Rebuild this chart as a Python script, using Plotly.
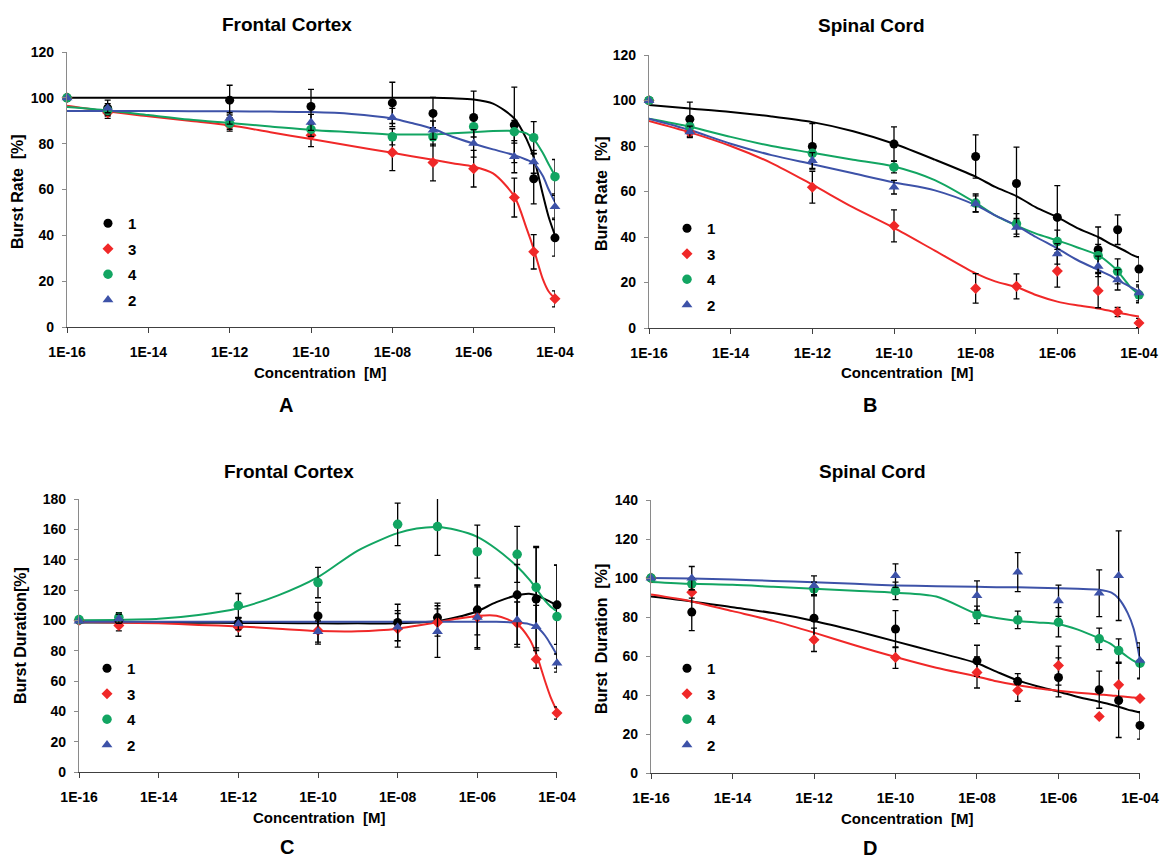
import plotly.graph_objects as go

# ---------------- data ----------------
conc = [1e-16, 1e-15, 1e-12, 1e-10, 1e-8, 1e-7, 1e-6, 1e-5, 3e-5, 1e-4]
fit_conc = [1e-16, 1e-15, 1e-14, 1e-13, 1e-12, 1e-11, 1e-10, 1e-9, 1e-8, 3e-8,
            1e-7, 3e-7, 1e-6, 3e-6, 1e-5, 2e-5, 3e-5, 5e-5, 7e-5, 1e-4]
series_names = ["1", "3", "4", "2"]
tick_vals = [1e-16, 1e-14, 1e-12, 1e-10, 1e-8, 1e-6, 1e-4]
tick_text = ["1E-16", "1E-14", "1E-12", "1E-10", "1E-08", "1E-06", "1E-04"]

# Panel A: Frontal Cortex, burst rate
A_s1 = [100, 95.5, 99, 96.2, 97.8, 93.2, 91.4, 88.2, 64.7, 38.9]
A_s1_err = [0, 3.5, 6.5, 7.5, 9, 7, 11.5, 16.5, 11, 8]
A_s3 = [100, 93.5, 88, 83.7, 76.2, 71.8, 69.1, 56.5, 32.8, 12.3]
A_s3_err = [0, 2.5, 2.5, 5, 8, 8, 8, 8.5, 7.5, 3.5]
A_s4 = [100, 94.5, 88.8, 86.2, 83, 83, 87.4, 85.2, 82.6, 65.6]
A_s4_err = [0, 2, 2.5, 3, 3.5, 4, 4.5, 5, 7, 7.5]
A_s2 = [100, 95.5, 91, 89.3, 91.4, 85.9, 80.1, 74.3, 72.1, 52.5]
A_s2_err = [0, 2, 2.5, 3.5, 4, 4, 6, 7, 5, 5]
A_fit1 = [100, 100, 100, 100, 100, 100, 100, 100, 100, 100, 100, 99.8, 99.3, 97.5, 91, 82, 74, 58, 48, 40]
A_fit3 = [96.5, 94, 92, 90, 88, 85, 82, 79, 76, 74.5, 73, 71.5, 70, 67, 57, 43, 34, 21, 15.5, 12.5]
A_fit4 = [96, 94.5, 92.5, 90.5, 89, 87.5, 86, 85, 84, 84, 84, 84.5, 85, 85.5, 85.5, 84.5, 82, 76, 71, 66]
A_fit2 = [94.3, 94.3, 94.3, 94.2, 94.1, 94, 93.8, 93, 91, 89, 86.5, 83, 80, 77.5, 75, 73, 71.5, 66, 60, 54.5]

# Panel B: Spinal Cord, burst rate
B_s1 = [100, 91.8, 79.8, 80.9, 75.4, 63.5, 48.6, 34.4, 43.2, 25.9]
B_s1_err = [0, 7.5, 10, 7.5, 9.5, 16, 14, 10, 6.5, 5.5]
B_s3 = [100, 86, 61.9, 44.9, 17.4, 18.3, 25, 16.4, 7, 2.2]
B_s3_err = [0, 2, 7, 7, 6.5, 5.5, 7, 7.5, 2, 2]
B_s4 = [100, 88.5, 76.8, 70.7, 54.9, 45.8, 38, 31.8, 24.9, 14.6]
B_s4_err = [0, 2, 3, 2.5, 4, 4.5, 5, 5, 5.5, 3.5]
B_s2 = [100, 86.2, 73.6, 61.9, 54.6, 44.2, 32.6, 27.1, 21.2, 15.4]
B_s2_err = [0, 2.5, 3.5, 3, 3.5, 4, 4.5, 4.5, 4.5, 3.5]
B_fit1 = [98, 96.5, 95, 93, 90.5, 86.5, 81, 74, 66.5, 62, 58, 53, 48.7, 44, 40, 37, 35.5, 33.5, 32, 31]
B_fit3 = [91, 86, 80, 72.5, 63, 53, 44, 34, 24, 20.5, 18, 14.5, 11.6, 10, 8.6, 7.5, 6.8, 6, 5.5, 5]
B_fit4 = [92, 88.5, 84, 80, 77, 74, 71, 65, 55, 49.5, 45, 41.5, 38.5, 35.5, 32, 28, 25, 20, 17, 15]
B_fit2 = [92, 87, 81, 76, 72, 68, 64, 60.5, 54, 49.5, 45, 40, 35, 30, 25.5, 23, 21, 19, 17.5, 16]

# Panel C: Frontal Cortex, burst duration
C_s1 = [100, 100, 98, 102.9, 98.6, 101.8, 106.9, 116.8, 114, 110.2]
C_s1_err = [0, 4, 4, 9, 12, 9.5, 16.5, 20, 34, 26]
C_s3 = [100, 96.6, 95.5, 93.3, 94.4, 98.6, 102, 98.1, 74.4, 38.9]
C_s3_err = [0, 3.5, 6, 9, 12, 9, 20, 14, 6, 4]
C_s4 = [100.5, 102, 109.7, 124.9, 163.3, 161.8, 145.3, 143.5, 121.8, 102.5]
C_s4_err = [0, 3, 8, 10, 14, 19, 17.5, 18.5, 27, 34]
C_s2 = [99.5, 101, 97.7, 92.6, 95.5, 92.6, 102, 100.3, 95.9, 71.8]
C_s2_err = [0, 3, 4, 7, 9, 17, 21, 18, 14, 6]
C_fit1 = [98.5, 98.5, 98.5, 98.4, 98.3, 98.2, 98, 98, 98, 98.5, 99.5, 102, 106, 112, 116.5, 117.5, 116.5, 114, 112, 110]
C_fit3 = [99, 98.5, 98, 97, 96, 94.5, 93, 92.8, 94.5, 96.5, 98.7, 101, 102.9, 103, 97.5, 88, 78, 60, 49, 40]
C_fit4 = [100, 100.3, 101, 103.5, 108, 116.5, 128.5, 146, 157.5, 160.5, 161.5, 159.5, 155, 147, 135.5, 127, 121, 113, 109, 106]
C_fit2 = [99, 99, 99, 99, 99, 99, 99, 99, 99, 99, 99, 99, 99, 99, 98.5, 97.5, 96, 90, 84, 77]

# Panel D: Spinal Cord, burst duration
D_s1 = [100, 82.5, 79.4, 73.8, 57.5, 47, 49, 42.7, 37.2, 24.4]
D_s1_err = [0, 9.5, 12, 9.5, 8, 4, 10, 9.5, 19, 7]
D_s3 = [100, 92.7, 68.3, 59.2, 51.6, 42.3, 55.1, 29, 45.2, 38.2]
D_s3_err = [0, 3, 6, 5.5, 8, 5.5, 10, 0, 0, 0]
D_s4 = [100, 97, 94.4, 93.4, 81.1, 78.5, 77.3, 68.8, 62.8, 56.3]
D_s4_err = [0, 3, 3.5, 4.5, 4.5, 4.5, 7.5, 5.5, 6, 8]
D_s2 = [100, 99.9, 96.1, 101.2, 91, 103, 88.3, 92.2, 101.2, 57.7]
D_s2_err = [0, 6, 5, 6, 7.5, 10, 8, 12, 23, 9]
D_fit1 = [90.5, 88, 85, 82, 78, 73, 67.5, 62, 56.3, 52, 47.5, 44.5, 41.7, 39, 36.5, 35, 34, 32.5, 31.8, 31]
D_fit3 = [91.5, 88, 83, 78, 72, 65.5, 59.5, 54, 49.5, 47, 45, 43.5, 42.2, 41.2, 40.3, 39.8, 39.4, 39, 38.7, 38.5]
D_fit4 = [98, 97, 96.5, 95.5, 94.5, 93.5, 92.5, 90.5, 81.5, 79.5, 78, 77.2, 76.3, 73.5, 69, 66, 63, 59.5, 57.5, 56]
D_fit2 = [100, 99.7, 99.2, 98.5, 97.8, 97, 96.2, 95.8, 95.5, 95.3, 95.2, 95, 94.8, 94.5, 94, 92.5, 89.5, 82, 74, 58]

# ---------------- style ----------------
W, H = 1161, 858
FONT = "Liberation Sans, Arial, sans-serif"
colors = {"1": "#000000", "3": "#f02828", "4": "#12a562", "2": "#3d52a8"}
symbols = {"1": "circle", "3": "diamond", "4": "circle", "2": "triangle-up"}
msizes = {"1": 9, "3": 8.5, "4": 9.5, "2": 9.5}


def px(x):
    return x / W


def py(y):
    return 1 - y / H


panels = [
    dict(key="A", x0=67, x1=555, y0=327, y1=52, ymax=120, ytitle="Burst Rate  [%]",
         title="Frontal Cortex", tx=287, ty=25, ctx=320, cty=372, lx=286, ly=405,
         ytx=18, yty=192, legx=108, legy=219,
         pts={"1": (A_s1, A_s1_err), "3": (A_s3, A_s3_err), "4": (A_s4, A_s4_err), "2": (A_s2, A_s2_err)},
         fits={"1": A_fit1, "3": A_fit3, "4": A_fit4, "2": A_fit2}),
    dict(key="B", x0=649, x1=1139, y0=328, y1=55, ymax=120, ytitle="Burst Rate  [%]",
         title="Spinal Cord", tx=871, ty=26, ctx=907, cty=372, lx=870, ly=405,
         ytx=601, yty=194, legx=687, legy=224,
         pts={"1": (B_s1, B_s1_err), "3": (B_s3, B_s3_err), "4": (B_s4, B_s4_err), "2": (B_s2, B_s2_err)},
         fits={"1": B_fit1, "3": B_fit3, "4": B_fit4, "2": B_fit2}),
    dict(key="C", x0=79, x1=557, y0=772, y1=499, ymax=180, ytitle="Burst Duration[%]",
         title="Frontal Cortex", tx=289, ty=471, ctx=319, cty=817, lx=287, ly=847,
         ytx=20, yty=636, legx=107, legy=664,
         pts={"1": (C_s1, C_s1_err), "3": (C_s3, C_s3_err), "4": (C_s4, C_s4_err), "2": (C_s2, C_s2_err)},
         fits={"1": C_fit1, "3": C_fit3, "4": C_fit4, "2": C_fit2}),
    dict(key="D", x0=651, x1=1140, y0=773, y1=500, ymax=140, ytitle="Burst  Duration  [%]",
         title="Spinal Cord", tx=872, ty=471, ctx=907, cty=818, lx=870, ly=848,
         ytx=601, yty=639, legx=687, legy=664,
         pts={"1": (D_s1, D_s1_err), "3": (D_s3, D_s3_err), "4": (D_s4, D_s4_err), "2": (D_s2, D_s2_err)},
         fits={"1": D_fit1, "3": D_fit3, "4": D_fit4, "2": D_fit2}),
]

fig = go.Figure()
annotations = []
layout = dict(
    template="none",
    width=W, height=H, margin=dict(l=0, r=0, t=0, b=0, autoexpand=False),
    paper_bgcolor="white", plot_bgcolor="white", showlegend=True,
    font=dict(family=FONT, color="black"),
)

for i, p in enumerate(panels):
    n = "" if i == 0 else str(i + 1)
    xa, ya = "x" + n, "y" + n
    leg = "legend" + n
    for s in series_names:
        fig.add_trace(go.Scatter(
            x=fit_conc, y=p["fits"][s], mode="lines",
            line=dict(color=colors[s], width=2, shape="spline", smoothing=0.8),
            xaxis=xa, yaxis=ya, showlegend=False, hoverinfo="skip", cliponaxis=False))
    for s in series_names:
        vals, err = p["pts"][s]
        fig.add_trace(go.Scatter(
            x=conc, y=vals, mode="markers", name=s, legend=leg, legendgroup=p["key"] + s,
            marker=dict(color=colors[s], symbol=symbols[s], size=msizes[s], line=dict(width=0)),
            error_y=dict(type="data", array=err, color="black", thickness=1.3, width=3),
            xaxis=xa, yaxis=ya, cliponaxis=False))
    layout["xaxis" + n] = dict(
        domain=[px(p["x0"]), px(p["x1"])], anchor=ya, type="log", range=[-16.0005, -3.9995],
        tickvals=tick_vals, ticktext=tick_text, ticks="outside", ticklen=5, tickwidth=1,
        tickcolor="#404040", showline=True, linecolor="#404040", linewidth=1.2,
        showgrid=False, zeroline=False, ticklabelstandoff=7, automargin=False,
        tickfont=dict(family=FONT, size=14, weight="bold", color="black"))
    layout["yaxis" + n] = dict(
        domain=[py(p["y0"]), py(p["y1"])], anchor=xa, range=[0, p["ymax"]], dtick=20,
        ticks="outside", ticklen=4, tickwidth=1, tickcolor="#8a8a8a", showline=True,
        linecolor="#8a8a8a", linewidth=1.2, showgrid=False, zeroline=False, ticklabelstandoff=5,
        automargin=False,
        tickfont=dict(family=FONT, size=14, weight="bold", color="black"))
    layout[leg] = dict(
        x=px(p["legx"] - 20), y=py(p["legy"] - 12), xanchor="left", yanchor="top",
        bgcolor="rgba(0,0,0,0)", borderwidth=0, traceorder="grouped", tracegroupgap=3,
        font=dict(family=FONT, size=15, weight="bold", color="black"))
    annotations += [
        dict(text=p["title"], x=px(p["tx"]), y=py(p["ty"]), xref="paper", yref="paper",
             showarrow=False, xanchor="center", yanchor="middle",
             font=dict(family=FONT, size=19, weight="bold", color="black")),
        dict(text="Concentration  [M]", x=px(p["ctx"]), y=py(p["cty"]), xref="paper", yref="paper",
             showarrow=False, xanchor="center", yanchor="middle",
             font=dict(family=FONT, size=15, weight="bold", color="black")),
        dict(text=p["key"], x=px(p["lx"]), y=py(p["ly"]), xref="paper", yref="paper",
             showarrow=False, xanchor="center", yanchor="middle",
             font=dict(family=FONT, size=20, weight="bold", color="black")),
        dict(text=p["ytitle"], x=px(p["ytx"]), y=py(p["yty"]), xref="paper", yref="paper",
             showarrow=False, xanchor="center", yanchor="middle", textangle=-90,
             font=dict(family=FONT, size=16, weight="bold", color="black")),
    ]

layout["annotations"] = annotations
fig.update_layout(**layout)
# remove the browser's default page margin so the 1161x858 figure fills the window exactly
fig.write_html("out.html", config={"displayModeBar": False},
               post_script="document.body.style.margin='0px';document.body.style.overflow='hidden';")
